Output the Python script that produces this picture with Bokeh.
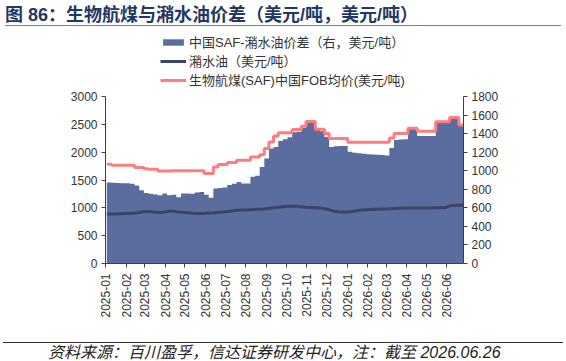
import pandas as pd
from math import pi
from bokeh.plotting import figure
from bokeh.layouts import column
from bokeh.models import (Range1d, LinearAxis, FixedTicker, SingleIntervalTicker,
                          DatetimeTickFormatter, Legend, LegendItem, Div,
                          ColumnDataSource)
from bokeh.embed import file_html
from bokeh.resources import INLINE

# Weekly observations (Fridays), 2025-01-03 .. 2026-06-26
weeks = pd.date_range("2025-01-03", periods=78, freq="7D")

# Bio-jet (SAF) China FOB average price, USD/t (left axis)
saf_fob = [1785, 1765, 1765, 1765, 1765, 1765, 1724, 1724, 1700, 1695,
           1693, 1663, 1663, 1663, 1668, 1668, 1668, 1668, 1668, 1668,
           1668, 1615, 1615, 1735, 1777, 1777, 1813, 1813, 1855, 1855,
           1855, 1914, 1914, 1955, 2064, 2183, 2291, 2351, 2351, 2351,
           2405, 2405, 2465, 2550, 2550, 2411, 2411, 2334, 2245, 2245,
           2245, 2245, 2180, 2180, 2180, 2180, 2180, 2180, 2180, 2180,
           2180, 2255, 2334, 2334, 2334, 2430, 2430, 2375, 2375, 2375,
           2375, 2545, 2545, 2545, 2625, 2625, 2490, 2490]

# Used cooking oil price, USD/t (left axis)
uco = [890, 888, 890, 893, 896, 900, 905,
       915, 935, 935, 925, 920, 918,
       935, 945, 930, 920, 915, 905,
       900, 898, 900, 905, 910, 918, 925,
       935, 945, 955, 960, 962, 965, 970, 975, 980,
       990, 1000, 1010, 1020, 1028, 1030, 1028, 1020,
       1010, 1005, 1000, 995, 985, 965, 940, 928, 925,
       925, 935, 950, 960, 965, 970, 975, 978, 980,
       985, 990, 992, 995, 995, 995, 995, 995, 995,
       998, 1000, 1000, 1005, 1035, 1045, 1045, 1045]

# China SAF - UCO spread, USD/t (right axis)
spread = [873, 870, 868, 866, 864, 860,
          840, 790, 760, 752, 745, 735, 755,
          735, 740, 715, 755, 755, 752, 765, 770, 740, 708,
          808, 815, 820, 845, 860, 878, 862, 862, 935, 945,
          1040, 1131, 1239, 1256, 1320, 1340, 1360, 1415, 1420, 1460,
          1519, 1519, 1450, 1425, 1364, 1256, 1265, 1267, 1267,
          1205, 1195, 1188, 1182, 1178, 1175, 1172, 1170, 1165,
          1245, 1330, 1336, 1340, 1450, 1465, 1375, 1375, 1375,
          1375, 1519, 1519, 1525, 1568, 1570, 1490, 1490]

month_ticks = pd.date_range("2025-01-01", "2026-06-01", freq="MS")
LEFT_MAX, RIGHT_MAX = 3000, 1800

title_text = "图 86：生物航煤与潲水油价差（美元/吨，美元/吨）"
source_text = "资料来源：百川盈孚，信达证券研发中心，注：截至 2026.06.26"
label_spread = "中国SAF-潲水油价差（右，美元/吨）"
label_uco = "潲水油（美元/吨）"
label_saf = "生物航煤(SAF)中国FOB均价(美元/吨)"

AREA = "#5b6c9e"
UCO_C = "#3a4464"
SAF_C = "#ff7c7f"
AXIS_C = "#404040"
TEXT_C = "#333333"
LATIN = "Liberation Sans, Noto Sans CJK SC"

W = 566
HEAD_H, FOOT_H = 30, 21
FIG_H = 361 - HEAD_H - FOOT_H
# page geometry: axes run from y=96 (top tick) to y=263 (zero); the frame
# reaches up to y=36 so the legend can sit above the axes
FL, FR, AX_TOP, FB, FRAME_TOP = 105, 463, 96, 263, 36
stretch = (FB - FRAME_TOP) / (FB - AX_TOP)

p = figure(width=W, height=FIG_H, x_axis_type="datetime",
           output_backend="svg", toolbar_location=None,
           x_range=Range1d(pd.Timestamp("2025-01-01"), pd.Timestamp("2026-06-26")),
           y_range=Range1d(0, LEFT_MAX * stretch),
           min_border_left=FL, min_border_right=W - FR,
           min_border_top=FRAME_TOP - HEAD_H, min_border_bottom=HEAD_H + FIG_H - FB,
           margin=0)
p.extra_y_ranges = {"spread": Range1d(0, RIGHT_MAX * stretch)}
p.outline_line_color = None
p.xgrid.grid_line_color = None
p.ygrid.grid_line_color = None
p.background_fill_color = "white"
p.border_fill_color = "white"

src = ColumnDataSource(dict(week=weeks, saf=saf_fob, uco=uco, spread=spread))

r_area = p.varea_step(x="week", y1=0, y2="spread", step_mode="after", source=src,
                      fill_color=AREA, y_range_name="spread")
r_uco = p.line("week", "uco", source=src, line_color=UCO_C, line_width=3)
r_saf = p.step("week", "saf", mode="after", source=src, line_color=SAF_C, line_width=3)


def style_axis(ax):
    ax.axis_line_color = AXIS_C
    ax.axis_line_width = 1
    ax.major_tick_line_color = AXIS_C
    ax.major_tick_in = 0
    ax.major_tick_out = 4
    ax.minor_tick_line_color = None
    ax.major_label_text_font = LATIN
    ax.major_label_text_font_size = "12px"
    ax.major_label_text_color = TEXT_C
    ax.major_label_standoff = 4


# x axis: one tick per month
xa = p.xaxis[0]
xa.ticker = FixedTicker(ticks=[t.timestamp() * 1000 for t in month_ticks])
fmt = "%Y-%m"
xa.formatter = DatetimeTickFormatter(days=fmt, months=fmt, years=fmt, hours=fmt,
                                     minutes=fmt, seconds=fmt, milliseconds=fmt,
                                     microseconds=fmt, hourmin=fmt, minsec=fmt)
xa.major_label_orientation = pi / 2
style_axis(xa)
xa.major_label_standoff = 6

ya = p.yaxis[0]
ya.ticker = SingleIntervalTicker(interval=500, num_minor_ticks=0)
ya.bounds = (0, LEFT_MAX)
style_axis(ya)

yr = LinearAxis(y_range_name="spread", bounds=(0, RIGHT_MAX),
                ticker=SingleIntervalTicker(interval=200, num_minor_ticks=0))
style_axis(yr)
p.add_layout(yr, "right")

legend = Legend(items=[LegendItem(label=label_spread, renderers=[r_area]),
                       LegendItem(label=label_uco, renderers=[r_uco]),
                       LegendItem(label=label_saf, renderers=[r_saf])],
                location=(160 - FL, FB - 89), orientation="vertical",
                glyph_width=26, glyph_height=8, label_height=12, spacing=0,
                padding=0, margin=0, label_standoff=3,
                background_fill_alpha=0, border_line_color=None,
                label_text_font=LATIN, label_text_font_size="13px",
                label_text_color=TEXT_C)
p.add_layout(legend)

header = Div(width=W, height=HEAD_H, margin=0, text=(
    '<div style="position:relative;width:566px;height:30px;">'
    '<div style="position:absolute;left:5px;top:2px;line-height:27px;white-space:nowrap;'
    'font-family:\'Liberation Sans\',\'Noto Sans CJK SC\';font-weight:bold;'
    f'font-size:18px;color:#1f3864;">{title_text}</div>'
    '<div style="position:absolute;left:5px;top:25px;width:556px;height:0;'
    'border-top:1.5px solid #7f7f7f;"></div></div>'))

footer = Div(width=W, height=FOOT_H, margin=0, text=(
    '<div style="position:relative;width:566px;height:21px;">'
    '<div style="position:absolute;left:3px;top:2px;width:560px;height:0;'
    'border-top:1px solid #333333;"></div>'
    '<div style="position:absolute;left:48px;top:3px;line-height:20px;white-space:nowrap;'
    'font-family:\'Liberation Sans\',\'Noto Sans CJK SC\';font-style:italic;'
    f'font-size:16px;color:#222222;">{source_text}</div></div>'))

page = column(header, p, footer, spacing=0, margin=0)

open("out.html", "w").write(file_html(page, INLINE))
